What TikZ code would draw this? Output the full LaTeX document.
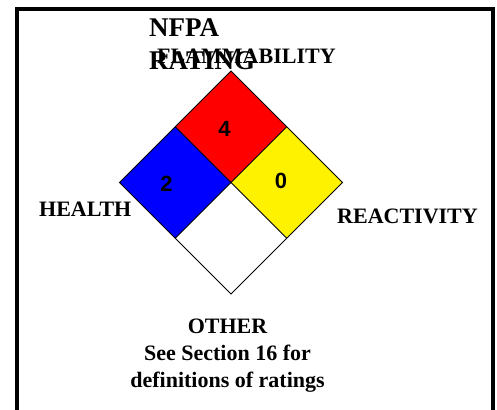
\documentclass[tikz,border=0pt]{standalone}
\usepackage{fontspec}
\setmainfont{Liberation Serif}
\newfontfamily\digitfont{Liberation Sans}
\usetikzlibrary{calc}
\begin{document}
\begin{tikzpicture}[x=1pt,y=-1pt,
  lbl/.style={inner sep=0pt,font=\bfseries\fontsize{22}{27}\selectfont},
  num/.style={inner sep=0pt,font=\digitfont\bfseries\fontsize{22}{26}\selectfont},
  cell/.style={draw=black,line width=0.8pt,line join=miter}]
\useasboundingbox (0,0) rectangle (497,409);
% frame
\draw[line width=4pt,line join=miter] (17,411) -- (17,9) -- (492.5,9) -- (492.5,411);
% diamond geometry
\coordinate (C) at (231,182.5);
\coordinate (T) at (231,71);
\coordinate (L) at (119.5,182.5);
\coordinate (R) at (342.5,182.5);
\coordinate (B) at (231,294);
\coordinate (TL) at ($(T)!0.5!(L)$);
\coordinate (TR) at ($(T)!0.5!(R)$);
\coordinate (LB) at ($(L)!0.5!(B)$);
\coordinate (RB) at ($(R)!0.5!(B)$);
\fill[red] (T) -- (TL) -- (C) -- (TR) -- cycle;
\fill[blue] (TL) -- (L) -- (LB) -- (C) -- cycle;
\fill[yellow] (TR) -- (C) -- (RB) -- (R) -- cycle;
\fill[white] (C) -- (LB) -- (B) -- (RB) -- cycle;
\draw[cell] (T) -- (L) -- (B) -- (R) -- cycle;
\draw[cell] (TL) -- (RB);
\draw[cell] (TR) -- (LB);
% digits
\node[num] (n4) at (224.5,128.5) {4};
\node[num] (n2) at (166.5,183.5) {2};
\node[num] (n0) at (281,181) {0};
% labels
\node[lbl,anchor=base west] (flam) at (157,64) {FLAMMABILITY};
\node[inner sep=0pt,anchor=north west,align=left,font=\bfseries\fontsize{27}{33}\selectfont] (nfpa) at (149,18.5) {NFPA\\RATING};
\node[lbl,anchor=base west] (health) at (39,216.5) {HEALTH};
\node[lbl,anchor=base west] (react) at (337,223) {REACTIVITY};
\node[lbl,anchor=base] (other) at (227.5,333) {OTHER};
\node[lbl,anchor=base] (see) at (227.5,360) {See Section 16 for};
\node[lbl,anchor=base] (defs) at (227.5,387) {definitions of ratings};
\end{tikzpicture}
\end{document}
